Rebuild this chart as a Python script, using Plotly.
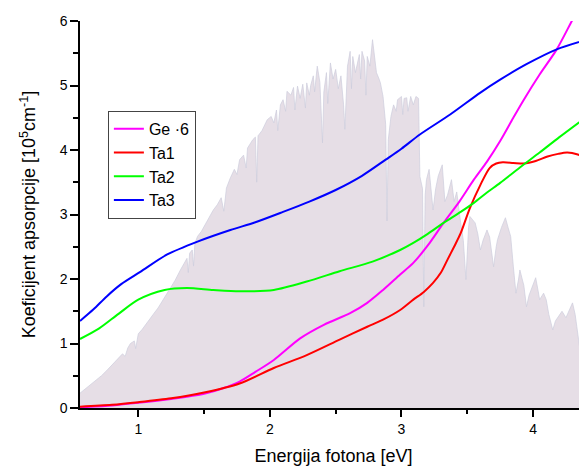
import plotly.graph_objects as go

# ---- data ----
spec_E = [0.557, 0.60, 0.65, 0.68, 0.72, 0.76, 0.81, 0.85, 0.88, 0.90, 0.92, 0.94, 0.97, 0.98,
          1.00, 1.03, 1.06, 1.09, 1.12, 1.15, 1.19, 1.22, 1.25, 1.28, 1.32, 1.35, 1.37, 1.38,
          1.39, 1.41, 1.42, 1.43, 1.45, 1.48, 1.51, 1.54, 1.57, 1.60, 1.63, 1.65, 1.67, 1.70, 1.73,
          1.75, 1.77, 1.80, 1.82, 1.83, 1.87, 1.89, 1.90, 1.91, 1.94, 1.98, 2.01, 2.03, 2.05, 2.06,
          2.08, 2.10, 2.12, 2.13, 2.16, 2.18, 2.19, 2.21, 2.23, 2.25, 2.27, 2.28, 2.30, 2.31, 2.33,
          2.34, 2.36, 2.38, 2.40, 2.41, 2.43, 2.44, 2.46, 2.48, 2.50, 2.52, 2.54, 2.56, 2.57, 2.59,
          2.61, 2.62, 2.63, 2.65, 2.66, 2.68, 2.69, 2.70, 2.72, 2.73, 2.74, 2.76, 2.78, 2.80, 2.81,
          2.83, 2.84, 2.86, 2.88, 2.89, 2.90, 2.92, 2.94, 2.96, 2.97, 3.00, 3.01, 3.02, 3.04, 3.05,
          3.07, 3.09, 3.11, 3.13, 3.14, 3.16, 3.17, 3.18, 3.19, 3.21, 3.23, 3.24, 3.26, 3.28, 3.31,
          3.33, 3.35, 3.38, 3.40, 3.42, 3.45, 3.47, 3.49, 3.51, 3.52, 3.54, 3.56, 3.58, 3.60, 3.62,
          3.65, 3.67, 3.70, 3.72, 3.73, 3.76, 3.79, 3.81, 3.83, 3.85, 3.87, 3.89, 3.90, 3.93, 3.95,
          3.97, 4.00, 4.02, 4.04, 4.05, 4.08, 4.10, 4.12, 4.15, 4.17, 4.20, 4.22, 4.25, 4.28,
          4.30, 4.32, 4.35, 4.37, 4.38, 4.40, 4.41]
spec_val = [0.23, 0.30, 0.38, 0.43, 0.50, 0.58, 0.69, 0.78, 0.84, 0.80, 0.93, 1.00, 1.04, 0.92,
            1.15, 1.22, 1.31, 1.38, 1.47, 1.55, 1.68, 1.78, 1.88, 1.98, 2.14, 2.26, 2.32, 2.10,
            2.40, 2.45, 2.20, 2.55, 2.66, 2.74, 2.85, 2.97, 3.07, 3.15, 3.26, 3.05, 3.41, 3.57, 3.70,
            3.62, 3.85, 3.92, 3.72, 4.03, 4.16, 4.20, 3.50, 4.22, 4.30, 4.47, 4.52, 4.42, 4.62, 4.30,
            4.70, 4.78, 4.60, 4.91, 4.85, 4.97, 4.62, 4.99, 4.80, 5.02, 4.65, 5.04, 4.85, 5.00, 5.15,
            4.90, 5.30, 5.05, 4.11, 4.90, 5.20, 4.72, 5.35, 5.10, 5.25, 4.95, 5.15, 4.70, 4.32, 5.30,
            5.53, 4.95, 5.45, 5.20, 5.30, 5.48, 5.10, 5.53, 5.38, 4.85, 5.45, 5.30, 5.71, 5.40, 5.20,
            5.10, 5.04, 4.83, 4.40, 2.90, 4.16, 4.52, 4.70, 4.60, 4.78, 4.83, 4.55, 4.80, 4.81, 4.60,
            4.83, 4.70, 4.83, 4.80, 3.59, 3.40, 1.57, 3.30, 3.54, 3.70, 3.30, 3.07, 3.40, 3.60, 3.77,
            3.20, 3.30, 3.54, 3.20, 3.35, 2.87, 2.60, 1.99, 2.80, 2.97, 2.92, 2.87, 2.70, 2.45, 2.60,
            2.76, 2.65, 2.19, 2.50, 2.61, 2.80, 2.95, 2.80, 2.66, 2.20, 1.78, 2.00, 2.14, 1.90, 1.57,
            1.75, 1.90, 2.02, 1.80, 1.68, 1.78, 1.68, 1.45, 1.21, 1.35, 1.45, 1.50, 1.40, 1.55,
            1.63, 1.45, 0.95, 0.70, 0.43, 0.75, 0.85]

ge_E = [0.557, 0.8, 1.0, 1.25, 1.5, 1.65, 1.77, 1.89, 2.03, 2.23, 2.41, 2.61, 2.74, 2.86,
        2.99, 3.09, 3.20, 3.32, 3.44, 3.55, 3.65, 3.75, 3.85, 3.93, 4.05, 4.18, 4.30, 4.35]
ge_val = [0.01, 0.04, 0.08, 0.14, 0.22, 0.31, 0.41, 0.56, 0.745, 1.08, 1.29, 1.47, 1.63, 1.83,
          2.07, 2.25, 2.52, 2.87, 3.20, 3.54, 3.82, 4.14, 4.50, 4.78, 5.17, 5.56, 6.02, 6.20]

ta1_E = [0.557, 0.8, 1.0, 1.25, 1.5, 1.77, 2.03, 2.28, 2.53, 2.74, 2.86, 2.99, 3.09, 3.17,
         3.24, 3.30, 3.35, 3.40, 3.45, 3.52, 3.60, 3.67, 3.72, 3.77, 3.85, 3.93, 4.02, 4.11,
         4.19, 4.26, 4.34, 4.41]
ta1_val = [0.02, 0.05, 0.09, 0.15, 0.24, 0.38, 0.62, 0.82, 1.06, 1.26, 1.37, 1.52, 1.68, 1.80,
           1.94, 2.10, 2.30, 2.50, 2.71, 3.10, 3.46, 3.72, 3.79, 3.81, 3.80, 3.79, 3.83, 3.90,
           3.94, 3.96, 3.93, 3.87]

ta2_E = [0.557, 0.7, 0.85, 1.0, 1.2, 1.37, 1.57, 1.77, 2.03, 2.28, 2.53, 2.78, 2.99, 3.09,
         3.20, 3.32, 3.45, 3.55, 3.65, 3.75, 3.90, 4.05, 4.20, 4.41]
ta2_val = [1.07, 1.23, 1.46, 1.68, 1.83, 1.86, 1.83, 1.81, 1.83, 1.96, 2.12, 2.27, 2.45, 2.56,
           2.70, 2.87, 3.04, 3.18, 3.34, 3.49, 3.73, 3.96, 4.20, 4.52]

ta3_E = [0.557, 0.66, 0.76, 0.87, 1.015, 1.22, 1.45, 1.70, 1.89, 2.1, 2.3, 2.5, 2.7, 2.88, 3.0,
         3.14, 3.37, 3.60, 3.75, 3.95, 4.18, 4.41]
ta3_val = [1.35, 1.53, 1.73, 1.92, 2.11, 2.38, 2.58, 2.76, 2.88, 3.04, 3.20, 3.38, 3.60, 3.85, 4.02,
           4.24, 4.55, 4.89, 5.09, 5.33, 5.56, 5.71]

series = [("Ge \u00b76", ge_E, ge_val, "#ff00ff"),
          ("Ta1", ta1_E, ta1_val, "#ff0000"),
          ("Ta2", ta2_E, ta2_val, "#00ff00"),
          ("Ta3", ta3_E, ta3_val, "#0000ff")]

FONT = "Liberation Sans, Arial, sans-serif"

fig = go.Figure()
fig.add_trace(go.Scatter(x=spec_E, y=spec_val, mode="lines", fill="tozeroy",
                         fillcolor="rgb(230,222,230)",
                         line=dict(color="rgb(205,205,220)", width=0.7),
                         showlegend=False, hoverinfo="skip"))
for name, xs, ys, col in series:
    fig.add_trace(go.Scatter(x=xs, y=ys, mode="lines", name=name,
                             line=dict(color=col, width=2, shape="spline", smoothing=0.8)))

fig.update_layout(
    width=579, height=458,
    margin=dict(l=72, r=0, t=13, b=58),
    paper_bgcolor="white", plot_bgcolor="white",
    font=dict(family=FONT, color="black", size=14),
    showlegend=True,
    legend=dict(x=0.055, y=0.768, xanchor="left", yanchor="top",
                bgcolor="white", bordercolor="#444444", borderwidth=1,
                font=dict(size=16, family=FONT), tracegroupgap=0),
    xaxis=dict(range=[0.557, 4.41], showgrid=False, zeroline=False,
               showline=True, linecolor="black", linewidth=1.5,
               ticks="outside", ticklen=7, tickwidth=1.5, tickcolor="black",
               dtick=1, tick0=0, tickfont=dict(size=14),
               minor=dict(ticks="outside", ticklen=4, dtick=0.5, tick0=0, tickcolor="black", tickwidth=1.5),
               title=dict(text="Energija fotona [eV]", font=dict(size=18), standoff=14)),
    yaxis=dict(range=[0, 6], showgrid=False, zeroline=False,
               showline=True, linecolor="black", linewidth=1.5,
               ticks="outside", ticklen=8, tickwidth=1.5, tickcolor="black",
               dtick=1, tick0=0, tickfont=dict(size=14),
               minor=dict(ticks="outside", ticklen=5, dtick=0.5, tick0=0, tickcolor="black", tickwidth=1.5),
               title=dict(text="Koeficijent apsorpcije [10<sup>5</sup>cm<sup>-1</sup>]",
                          font=dict(size=18), standoff=19)),
)

fig.write_html("out.html")
